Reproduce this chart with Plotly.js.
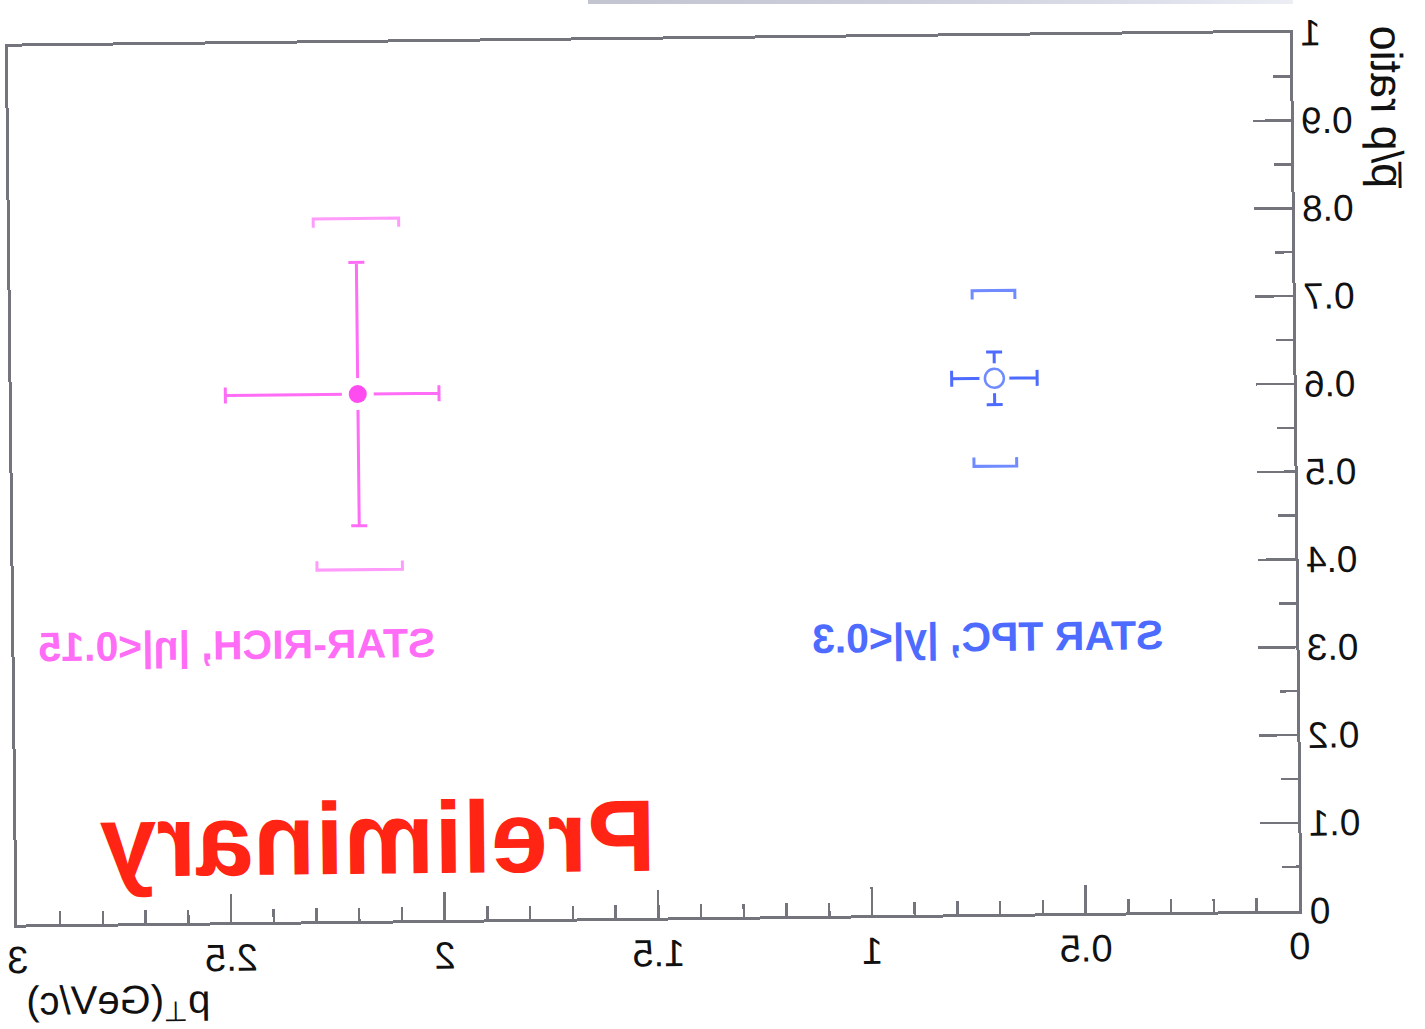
<!DOCTYPE html>
<html>
<head>
<meta charset="utf-8">
<script src="https://cdn.plot.ly/plotly-3.0.1.min.js"></script>
<style>
  html, body { margin: 0; padding: 0; background: #ffffff; overflow: hidden; }
  #sheet {
    position: absolute; left: 0; top: 0; width: 1425px; height: 1029px;
    transform-origin: 712.5px 514.5px;
    transform: rotate(-0.625deg) scaleX(-1);
    z-index: 1;
  }
  #edge {
    position: absolute; left: 588px; top: 0; width: 705px; height: 4px;
    background: linear-gradient(to right, #c2c5d0, #cdd0dc 45%, #dde0ea 80%, #eceef4);
    z-index: 2;
  }
</style>
</head>
<body>
<div id="edge"></div>
<div id="sheet"><div id="chart"></div></div>
<script>
// pbar/p ratio vs pT, STAR TPC (|y|<0.3)
const ptTPC      = [0.70];
const ptLoTPC    = [0.60];
const ptHiTPC    = [0.80];
const ratioTPC   = [0.61];
const statTPC    = [0.03];
const sysTPC     = [0.10];

// pbar/p ratio vs pT, STAR-RICH (|eta|<0.15)
const ptRICH     = [2.19];
const ptLoRICH   = [2.00];
const ptHiRICH   = [2.50];
const ratioRICH  = [0.60];
const statRICH   = [0.15];
const sysRICH    = [0.20];

const xTickVals  = [0, 0.5, 1, 1.5, 2, 2.5, 3];
const xTickText  = ['0', '0.5', '1', '1.5', '2', '2.5', '3'];
const yTickVals  = [0, 0.1, 0.2, 0.3, 0.4, 0.5, 0.6, 0.7, 0.8, 0.9, 1];
const yTickText  = ['0', '0.1', '0.2', '0.3', '0.4', '0.5', '0.6', '0.7', '0.8', '0.9', '1'];

const PINK = '#ff6cf6';
const PINK_LIGHT = '#ff9cfb';
const BLUE = '#4d6bff';
const BLUE_LIGHT = '#6f8bff';
const AXIS = '#74747c';
const FONT = 'Liberation Sans, Arial, Helvetica, sans-serif';

// systematic-error brackets: horizontal bar with short end ticks pointing at the point
function brackets(pt, val, sys, halfW, tick) {
  const xs = [], ys = [];
  for (let i = 0; i < pt.length; i++) {
    const top = val[i] + sys[i], bot = val[i] - sys[i];
    const l = pt[i] - halfW, r = pt[i] + halfW;
    xs.push(l, l, r, r, null, l, l, r, r, null);
    ys.push(top - tick, top, top, top - tick, null, bot + tick, bot, bot, bot + tick, null);
  }
  return { xs, ys };
}

const bTPC = brackets(ptTPC, ratioTPC, sysTPC, 0.05, 0.01);
const bRICH = brackets(ptRICH, ratioRICH, sysRICH, 0.10, 0.01);

const traces = [
  // systematic brackets
  { x: bTPC.xs, y: bTPC.ys, mode: 'lines', line: { color: BLUE_LIGHT, width: 3 }, hoverinfo: 'skip' },
  { x: bRICH.xs, y: bRICH.ys, mode: 'lines', line: { color: PINK_LIGHT, width: 3 }, hoverinfo: 'skip' },
  // statistical errors and pT bin widths
  {
    x: ptTPC, y: ratioTPC, mode: 'markers',
    marker: { size: 1, color: 'rgba(0,0,0,0)' },
    error_y: { type: 'data', array: statTPC, color: BLUE, thickness: 3, width: 8 },
    error_x: { type: 'data', array: ptHiTPC.map((h, i) => h - ptTPC[i]),
               arrayminus: ptLoTPC.map((l, i) => ptTPC[i] - l), color: BLUE, thickness: 3, width: 8 }
  },
  {
    x: ptRICH, y: ratioRICH, mode: 'markers',
    marker: { size: 1, color: 'rgba(0,0,0,0)' },
    error_y: { type: 'data', array: statRICH, color: PINK, thickness: 3, width: 8 },
    error_x: { type: 'data', array: ptHiRICH.map((h, i) => h - ptRICH[i]),
               arrayminus: ptLoRICH.map((l, i) => ptRICH[i] - l), color: PINK, thickness: 3, width: 8 }
  },
  // white gap around the markers
  { x: ptTPC, y: ratioTPC, mode: 'markers', marker: { size: 30, color: '#ffffff' }, hoverinfo: 'skip' },
  { x: ptRICH, y: ratioRICH, mode: 'markers', marker: { size: 32, color: '#ffffff' }, hoverinfo: 'skip' },
  // markers
  { x: ptTPC, y: ratioTPC, mode: 'markers',
    marker: { size: 19, color: '#ffffff', line: { color: BLUE_LIGHT, width: 2.5 } } },
  { x: ptRICH, y: ratioRICH, mode: 'markers',
    marker: { size: 18, color: '#ff4cf0', line: { width: 0 } } }
];

const layout = {
  width: 1425, height: 1029,
  margin: { l: 130, r: 13, t: 39, b: 112, pad: 0 },
  paper_bgcolor: 'rgba(0,0,0,0)', plot_bgcolor: 'rgba(0,0,0,0)',
  showlegend: false,
  font: { family: FONT, color: '#111111' },
  xaxis: {
    range: [0, 3], showgrid: false, zeroline: false,
    showline: true, mirror: true, linecolor: AXIS, linewidth: 3,
    ticks: 'inside', ticklen: 28, tickwidth: 2.5, tickcolor: AXIS,
    tickmode: 'array', tickvals: xTickVals, ticktext: xTickText,
    tickfont: { family: FONT, size: 38, color: '#111111' },
    minor: { dtick: 0.1, ticks: 'inside', ticklen: 13, tickwidth: 2.5, tickcolor: AXIS, showgrid: false }
  },
  yaxis: {
    range: [0, 1], showgrid: false, zeroline: false,
    showline: true, mirror: true, linecolor: AXIS, linewidth: 3,
    ticks: 'inside', ticklen: 38, tickwidth: 2.5, tickcolor: AXIS,
    tickmode: 'array', tickvals: yTickVals, ticktext: yTickText,
    tickfont: { family: FONT, size: 37, color: '#111111' },
    minor: { dtick: 0.05, ticks: 'inside', ticklen: 17, tickwidth: 2.5, tickcolor: AXIS, showgrid: false }
  },
  annotations: [
    { text: 'STAR TPC, |y|<0.3', xref: 'x', yref: 'y', x: 0.722, y: 0.316,
      xanchor: 'center', yanchor: 'middle', showarrow: false,
      font: { family: FONT, size: 41, color: BLUE, weight: 'bold' } },
    { text: 'STAR-RICH, |η|<0.15', xref: 'x', yref: 'y', x: 2.48, y: 0.315,
      xanchor: 'center', yanchor: 'middle', showarrow: false,
      font: { family: FONT, size: 41, color: PINK, weight: 'bold' } },
    { text: 'Preliminary', xref: 'x', yref: 'y', x: 2.156, y: 0.093,
      xanchor: 'center', yanchor: 'middle', showarrow: false,
      font: { family: FONT, size: 102, color: '#ff2414', weight: 'bold' } },
    { text: 'p<sub>⊥</sub>(GeV/c)', xref: 'paper', yref: 'paper', x: 0.995, y: -0.09,
      xanchor: 'right', yanchor: 'middle', showarrow: false,
      font: { family: FONT, size: 40, color: '#111111' } },
    { text: 'p\u0305/p ratio', xref: 'paper', yref: 'paper', x: -0.075, y: 0.914,
      xanchor: 'center', yanchor: 'middle', textangle: -90, showarrow: false,
      font: { family: FONT, size: 45, color: '#111111' } }
  ]
};

Plotly.newPlot('chart', traces, layout, { staticPlot: true, displayModeBar: false });
</script>
</body>
</html>
